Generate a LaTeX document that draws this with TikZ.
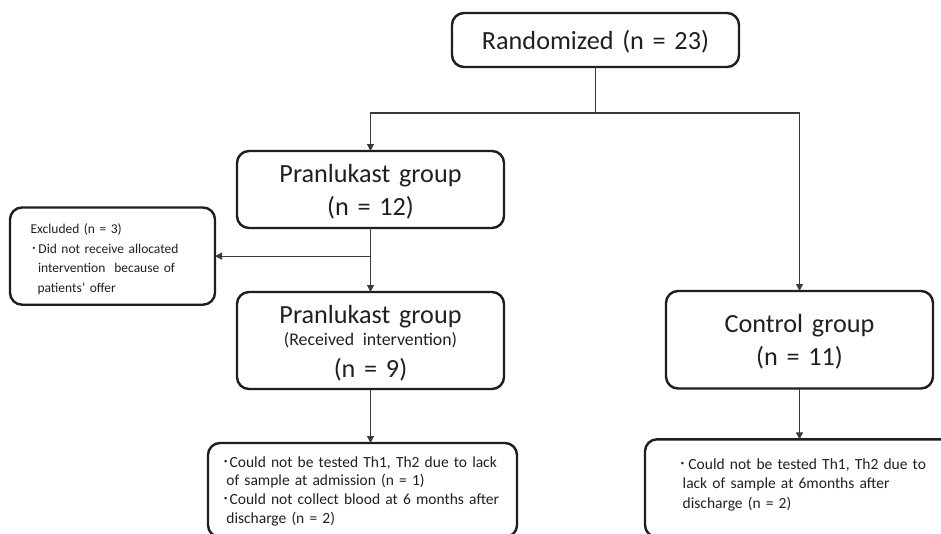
\documentclass[tikz,border=0pt]{standalone}
\usepackage{fontspec}
\setmainfont{Carlito}
\newfontfamily\cjk{Noto Sans CJK JP}
\usetikzlibrary{arrows.meta}
\definecolor{boxc}{HTML}{1E1E1E}
\definecolor{linec}{HTML}{3A3A3A}
\definecolor{txtc}{HTML}{231F20}
\newcommand\bul[1]{{\cjk ･}\hspace{#1}}
\tikzset{
  box/.style={draw=boxc, line width=2.4pt, rounded corners=12pt, inner ysep=0pt,
    outer sep=0pt, anchor=north west, text=txtc},
  bigtxt/.style={font=\fontsize{26.2}{33}\selectfont},
  conn/.style={draw=linec, line width=1.1pt},
  arr/.style={conn, -{Triangle[length=7pt,width=7pt]}}
}
\begin{document}
\begin{tikzpicture}[x=1pt,y=-1pt]
\useasboundingbox (0,0) rectangle (941,533);
\clip (0,0) rectangle (941,533);
\fill[white] (0,0) rectangle (941,533);
\node[box, bigtxt, inner xsep=0pt, text width=287pt, align=center] (rand) at (452,13)
  {\rule{0pt}{36pt}Randomized (n = 23)\rule[-18pt]{0pt}{0pt}};
\node[box, bigtxt, inner xsep=0pt, text width=267pt, align=center] (pran) at (237,151)
  {\rule{0pt}{31pt}Pranlukast group\\(n = 12)\rule[-13pt]{0pt}{0pt}};
\node[box, bigtxt, inner xsep=0pt, text width=267pt, align=center] (recv) at (237,292)
  {\rule{0pt}{31pt}Pranlukast group\\[-11pt]{\fontsize{17.8}{22}\selectfont (Received intervention)}\\[-1pt](n = 9)\rule[-12pt]{0pt}{0pt}};
\node[box, bigtxt, inner xsep=0pt, text width=267pt, align=center] (ctrl) at (666,291)
  {\rule{0pt}{41.5pt}Control group\\(n = 11)\rule[-23pt]{0pt}{0pt}};
\node[box, font=\fontsize{13.5}{19.7}\selectfont, inner xsep=20.5pt, text width=164pt, align=left] (excl) at (10,207.5)
  {\rule{0pt}{25.8pt}\mbox{Excluded (n = 3)}\\\mbox{\bul{1.2pt}Did not receive allocated}\\\mbox{\hspace*{7.5pt}intervention\ \ because of}\\\mbox{\hspace*{7pt}patients’ offer}\rule[-12.3pt]{0pt}{0pt}};
\node[box, font=\fontsize{15.5}{18.7}\selectfont, inner xsep=13.9pt, text width=281.2pt, align=left] (lbot) at (208,443)
  {\rule{0pt}{24pt}\mbox{\bul{0pt}Could not be tested Th1, Th2 due to lack}\\\mbox{\hspace*{4.5pt}of sample at admission (n = 1)}\\\mbox{\bul{0pt}Could not collect blood at 6 months after}\\\mbox{\hspace*{4.5pt}discharge (n = 2)}\rule[-14pt]{0pt}{0pt}};
\node[box, font=\fontsize{15.5}{19.5}\selectfont, inner xsep=33.5pt, text width=263pt, align=left] (rbot) at (645,439.3)
  {\rule{0pt}{30pt}\mbox{\bul{2.2pt}Could not be tested Th1, Th2 due to}\\\mbox{\hspace*{4.2pt}lack of sample at 6months after}\\\mbox{\hspace*{4.2pt}discharge (n = 2)}\rule[-28.7pt]{0pt}{0pt}};
\coordinate (split) at (595.5,113);
\coordinate (exsplit) at (pran.south |- excl.east);
\draw[conn] (rand.south) -- (split);
\draw[arr] (split) -| (pran.north);
\draw[arr] (split) -| (ctrl.north);
\draw[arr] (pran.south) -- (recv.north);
\draw[arr] (exsplit) -- (excl.east);
\draw[arr] (recv.south) -- (recv.south |- lbot.north);
\draw[arr] (ctrl.south) -- (ctrl.south |- rbot.north);
\end{tikzpicture}
\end{document}
